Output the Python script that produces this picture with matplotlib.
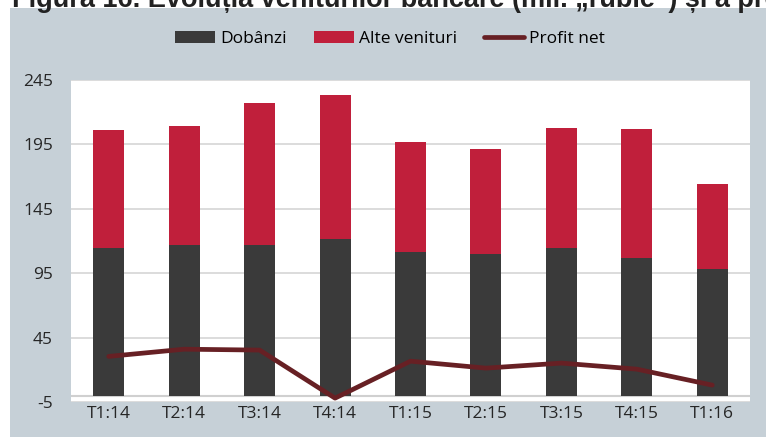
import matplotlib
matplotlib.use("Agg")
import matplotlib.pyplot as plt
from matplotlib.patches import Rectangle
from matplotlib.lines import Line2D
import numpy as np

categories = ["T1:14", "T2:14", "T3:14", "T4:14", "T1:15", "T2:15", "T3:15", "T4:15", "T1:16"]
dobanzi = [114.3, 116.7, 116.7, 121.5, 111.2, 109.8, 114.3, 106.6, 98.1]
totals = [206.0, 209.2, 227.5, 233.7, 197.0, 191.1, 207.4, 206.6, 164.0]
alte_venituri = [t - d for t, d in zip(totals, dobanzi)]
profit_net = [30.4, 36.0, 35.3, -2.0, 26.7, 21.3, 25.2, 20.5, 8.1]
yticks = [-5, 45, 95, 145, 195, 245]

W, H = 766, 437
fig = plt.figure(figsize=(W / 100, H / 100), dpi=100)
fig.patch.set_facecolor("white")

bg = "#C6D0D7"
fig.patches.append(Rectangle((10 / W, 0), 1 - 10 / W, 1 - 8 / H, transform=fig.transFigure,
                             facecolor=bg, edgecolor="none", zorder=-10))

fig.text(12 / W, 1 - 7 / H, "Figura 16. Evoluția veniturilor bancare (mil. „ruble”) și a profitului net",
         family="Liberation Sans", fontweight="bold", fontsize=19.5, color="#222222",
         ha="left", va="baseline", zorder=5)

ax = fig.add_axes([71 / W, 1 - 402 / H, (750 - 71) / W, (402 - 80) / H])
ax.set_zorder(1)
ax.set_facecolor("white")

x = np.arange(len(categories))
bw = 0.41
dark = "#3A3A3A"
red = "#C01F3B"
line_c = "#672024"

ax.bar(x, dobanzi, width=bw, color=dark, zorder=3)
ax.bar(x, alte_venituri, width=bw, bottom=dobanzi, color=red, zorder=3)
ax.plot(x, profit_net, color=line_c, lw=3.4, solid_capstyle="round", solid_joinstyle="round", zorder=4)

ax.set_xlim(-0.5, len(categories) - 0.5)
ax.set_ylim(-5, 245)
ax.set_yticks(yticks)
ax.set_yticklabels([str(v) for v in yticks])
ax.set_xticks(x)
ax.set_xticklabels(categories)
ax.grid(axis="y", color="#D9D9D9", lw=1.3, zorder=1)
ax.axhline(0, color="#D0D0D0", lw=1.5, zorder=2)
for s in ax.spines.values():
    s.set_visible(False)
ax.tick_params(axis="both", length=0, labelsize=12.5, colors="#262626")
ax.tick_params(axis="y", pad=13)
ax.tick_params(axis="x", pad=3)
for lab in ax.get_xticklabels() + ax.get_yticklabels():
    lab.set_family("Open Sans")

handles = [Rectangle((0, 0), 1, 1, facecolor=dark),
           Rectangle((0, 0), 1, 1, facecolor=red),
           Line2D([0], [0], color=line_c, lw=3.4, solid_capstyle="round")]
leg = fig.legend(handles, ["Dobânzi", "Alte venituri", "Profit net"], loc="center",
                 bbox_to_anchor=(390 / W, 1 - 39 / H), ncol=3, frameon=False,
                 prop={"family": "Open Sans", "size": 12.5}, handlelength=2.3,
                 handleheight=0.63, handletextpad=0.3, columnspacing=1.55,
                 borderpad=0, borderaxespad=0)

fig.savefig("out.png", dpi=100, facecolor=fig.get_facecolor())
